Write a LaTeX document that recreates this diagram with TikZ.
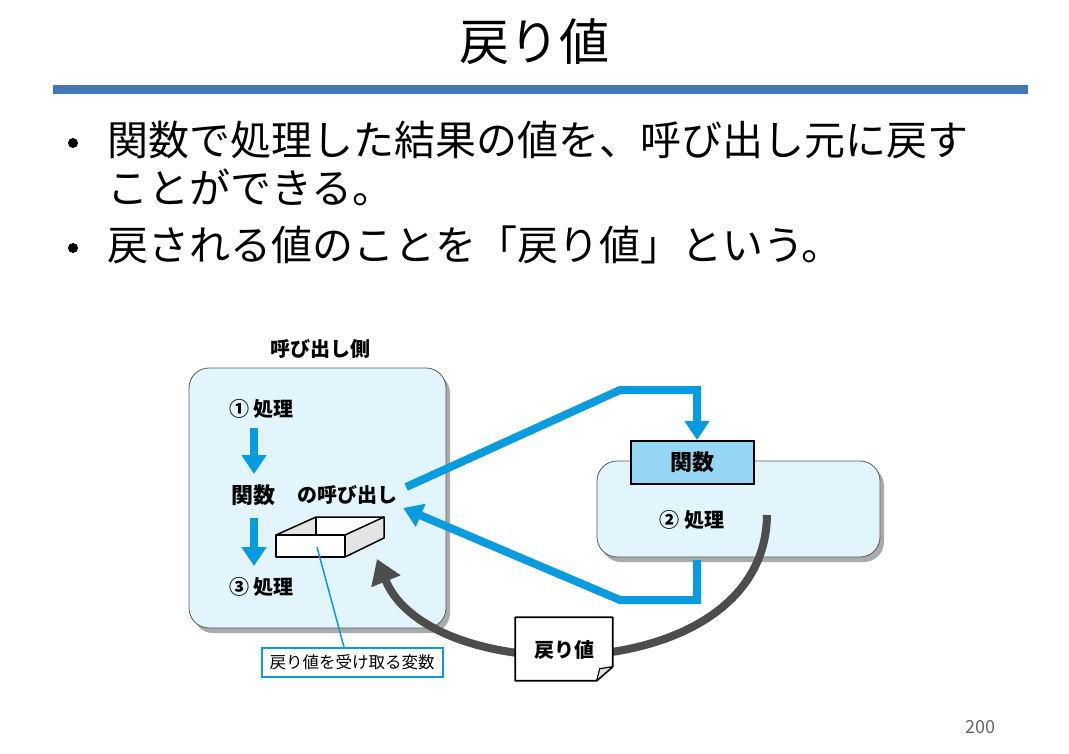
\documentclass[tikz,border=0pt]{standalone}
\usepackage{fontspec}
\setmainfont{Noto Sans CJK JP}
\usetikzlibrary{arrows.meta,calc}
\definecolor{barblue}{RGB}{68,119,184}
\definecolor{arrowblue}{RGB}{8,155,224}
\definecolor{boxblue}{RGB}{226,244,252}
\definecolor{hdrblue}{RGB}{148,214,244}
\definecolor{darkarrow}{RGB}{77,77,77}
\definecolor{shadowgray}{RGB}{170,170,170}
\definecolor{facegray}{RGB}{228,228,228}
\begin{document}
\begin{tikzpicture}[x=1pt,y=-1pt,
  lbl/.style={font=\bfseries\fontsize{20}{24}\selectfont, inner sep=0pt},
  bodytext/.style={font=\fontsize{41}{48}\selectfont, anchor=west, inner sep=0pt},
  bulletdot/.style={circle, fill=black, inner sep=0pt, minimum size=10pt},
  roundbox/.style={draw=black!65, line width=0.8pt, fill=boxblue, rounded corners=20pt, inner sep=0pt},
  shadowbox/.style={fill=shadowgray, rounded corners=20pt, inner sep=0pt},
  bluearrow/.style={draw=arrowblue, line width=8pt, -{Triangle[width=24pt,length=19pt]}},
  grayarrow/.style={draw=darkarrow, line width=8pt, -{Triangle[width=30pt,length=24pt]}},
]
\useasboundingbox (0,0) rectangle (1069,754);
\fill[white] (0,0) rectangle (1069,754);

% title and bar
\node[font=\fontsize{50}{56}\selectfont, inner sep=0pt] (title) at (534,42) {戻り値};
\fill[barblue] (53,85) rectangle (1028,94);

% bullets
\node[bulletdot] (d1) at (73,143) {};
\node[bodytext] (b1) at (107,140) {関数で処理した結果の値を、呼び出し元に戻す};
\node[bodytext] (b1b) at (107,187) {ことができる。};
\node[bulletdot] (d2) at (73,248) {};
\node[bodytext] (b2) at (107,245) {戻される値のことを「戻り値」という。};

% caller box
\node[shadowbox, minimum width=257pt, minimum height=260pt] (callershadow) at (321.5,503) {};
\node[roundbox, minimum width=257pt, minimum height=260pt] (caller) at (317.5,498) {};
\node[lbl, font=\bfseries\fontsize{20}{24}\selectfont] (callerlabel) at (320,349) {呼び出し側};

\node[lbl, anchor=west] (p1) at (229,409) {① 処理};
\node[lbl, font=\bfseries\fontsize{22}{26}\selectfont] (kansu) at (253.5,495) {関数};
\node[lbl] (yobi) at (347,495) {の呼び出し};
\node[lbl, anchor=west] (p3) at (229,587) {③ 処理};

\draw[bluearrow] (254,428) -- (254,474);
\draw[bluearrow] (254,518) -- (254,566);

% function box
\node[shadowbox, minimum width=283pt, minimum height=96pt] (funcshadow) at (742.5,514) {};
\node[roundbox, minimum width=283pt, minimum height=96pt] (func) at (738.5,509) {};
\node[draw=black, line width=2pt, fill=hdrblue, minimum width=123pt, minimum height=43pt, inner sep=0pt,
      font=\bfseries\fontsize{22}{26}\selectfont] (hdr) at (692.5,462.5) {関数};
\node[lbl] (p2) at (692,520) {② 処理};

% blue call / return arrows
\coordinate (c1) at (620,390);
\coordinate (c2) at (697,390);
\coordinate (c3) at (697,560);
\coordinate (c4) at (697,600);
\coordinate (c5) at (620,600);
\draw[bluearrow] (yobi.east) ++(9,-8) -- (c1) -- (c2) -- (c2 |- hdr.north);
\draw[bluearrow] (c3) -- (c4) -- (c5) -- ($(yobi.east)+(6,13)$);

% return arrow
\coordinate (rs) at (767,515);
\coordinate (re) at (377,559);
\draw[grayarrow] (rs) .. controls (765,690) and (430,690) .. (re);

% 3D box (variable)
\coordinate (f1) at (276,535);
\coordinate (f2) at (345,535);
\coordinate (f3) at (345,557);
\coordinate (f4) at (276,557);
\coordinate (t1) at (316,517);
\coordinate (t2) at (384,517);
\coordinate (t3) at (384,538);
\fill[white] (f1) -- (t1) -- (t2) -- (f2) -- cycle;
\fill[facegray] (f1) -- (t1) -- (316,535) -- cycle;
\filldraw[fill=facegray, draw=black, line width=1.5pt, line join=round] (f2) -- (t2) -- (t3) -- (f3) -- cycle;
\filldraw[fill=white, draw=black, line width=1.5pt, line join=round] (f1) rectangle (f3);
\draw[black, line width=1.5pt, line join=round] (f1) -- (t1) -- (t2);
\draw[black, line width=1.5pt] (t1) -- (316,535);

% variable label
\node[draw=arrowblue, line width=2pt, fill=white, minimum width=181pt, minimum height=29pt, inner sep=0pt,
      font=\fontsize{16.5}{20}\selectfont] (var) at (352,662.5) {戻り値を受け取る変数};
\coordinate (vline) at (317,547);
\draw[arrowblue, line width=1.5pt] (vline) -- (var.north -| 344,0);

% return-value note
\node[minimum width=97pt, minimum height=63pt, inner sep=0pt] (ret) at (564,649) {};
\filldraw[fill=white, draw=black, line width=1.8pt, line join=round]
  (ret.north west) -- (ret.north east) -- ($(ret.south east)+(0,-14)$) -- ($(ret.south east)+(-16,0)$) -- (ret.south west) -- cycle;
\filldraw[fill=facegray, draw=black, line width=1.2pt, line join=round]
  ($(ret.south east)+(0,-14)$) -- ($(ret.south east)+(-16,0)$) -- ($(ret.south east)+(-13,-12)$) -- cycle;
\node[lbl] (rettext) at (564,650) {戻り値};

% page number
\node[font=\fontsize{18}{21}\selectfont, text=black!60, inner sep=0pt] (page) at (980,727) {200};
\end{tikzpicture}
\end{document}
